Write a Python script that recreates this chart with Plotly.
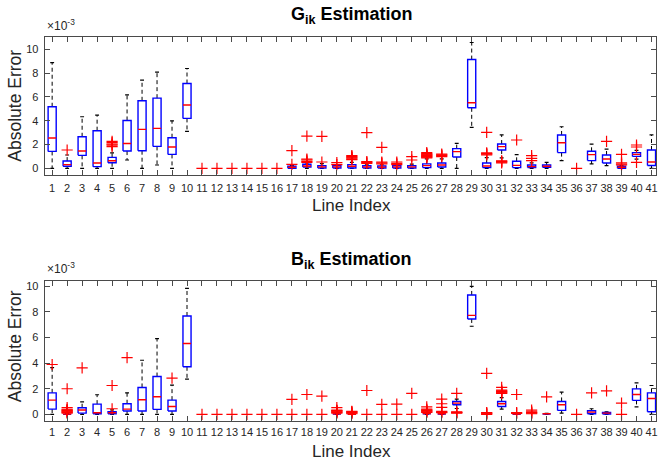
import plotly.graph_objects as go

# ---------------- data (values in units of 1e-3) ----------------
line_index = list(range(1, 42))

# G_ik estimation
g_q1 = [1.42, 0.17, 1.09, 0.14, 0.47, 1.45, 1.48, 1.84, 1.17, 4.19,
        None, None, None, None, None, None,
        0.00, 0.11, 0.03, 0.03, 0.03, 0.03, 0.03, 0.03, 0.03, 0.06, 0.11,
        0.95, 5.08, 0.06, 1.54, 0.06, 0.06, 0.09, 1.32, None, 0.65, 0.45,
        0.00, 1.00, 0.24]
g_med = [2.54, 0.31, 1.45, 0.45, 0.64, 2.09, 3.27, 3.35, 1.79, 5.31,
         None, None, None, None, None, None,
         0.09, 0.20, 0.12, 0.12, 0.17, 0.12, 0.10, 0.12, 0.12, 0.23, 0.28,
         1.40, 5.50, 0.20, 1.82, 0.25, 0.14, 0.17, 2.15, None, 1.15, 0.78,
         0.09, 1.17, 0.53]
g_q3 = [5.17, 0.61, 2.65, 3.16, 0.92, 4.02, 5.67, 5.89, 2.57, 7.12,
        None, None, None, None, None, None,
        0.17, 0.34, 0.23, 0.23, 0.31, 0.23, 0.20, 0.23, 0.23, 0.37, 0.45,
        1.65, 9.13, 0.45, 2.04, 0.59, 0.28, 0.28, 2.80, None, 1.43, 1.12,
        0.17, 1.32, 1.54]
g_wlo = [0.00, 0.00, 0.00, 0.00, 0.00, 0.70, 0.00, 0.28, 0.00, 3.10,
         None, None, None, None, None, None,
         0.00, 0.00, 0.00, 0.00, 0.00, 0.00, 0.00, 0.00, 0.00, 0.00, 0.00,
         0.00, 3.44, 0.00, 0.87, 0.00, 0.00, 0.00, 0.65, None, 0.37, 0.23,
         0.00, 0.78, 0.00]
g_whi = [8.88, 1.12, 4.33, 4.47, 1.30, 6.17, 7.40, 8.07, 3.99, 8.38,
         None, None, None, None, None, None,
         0.25, 0.45, 0.40, 0.28, 0.50, 0.35, 0.30, 0.28, 0.35, 0.80, 0.80,
         2.10, 10.56, 0.90, 2.80, 1.15, 0.45, 0.50, 3.49, None, 2.04, 1.62,
         0.22, 1.50, 2.80]
g_out = [[], [1.54], [], [], [1.82, 1.95, 2.04, 2.15, 2.26], [], [], [], [], [],
         [0], [0], [0], [0], [0], [0],
         [0.34, 1.48], [0.50, 0.59, 0.70, 0.78, 2.71], [0.53, 2.68], [0.31, 0.48],
         [0.73, 0.80, 0.87, 0.93, 1.00, 1.06], [0.42, 0.50, 0.56, 2.99],
         [0.37, 0.45, 0.53, 1.76], [0.31, 0.42, 0.53], [0.70, 0.98],
         [0.87, 0.93, 0.98, 1.03, 1.08, 1.13, 1.18, 1.24, 1.31],
         [0.98, 1.06, 1.13, 1.20],
         [], [], [1.12, 1.18, 1.23, 1.29, 3.02], [0.45, 0.52, 0.58, 0.62],
         [2.38], [0.65, 0.84, 1.06], [], [], [0], [], [2.27],
         [0.28, 0.36, 0.45, 1.17], [0.50, 1.79, 1.96], []]

# B_ik estimation
b_q1 = [0.41, 0.00, 0.10, 0.05, 0.05, 0.26, 0.26, 0.39, 0.26, 3.71,
        None, None, None, None, None, None,
        None, None, None, 0.02, 0.00, None, None, None, None, 0.05, 0.03,
        0.75, 7.44, None, 0.62, 0.00, None, 0.03, 0.31, None, 0.05, 0.03,
        None, 1.09, 0.20]
b_med = [1.11, 0.02, 0.34, 0.13, 0.13, 0.41, 1.14, 1.37, 0.62, 5.52,
         None, None, None, None, None, None,
         None, None, None, 0.04, 0.01, None, None, None, None, 0.07, 0.05,
         0.88, 7.72, None, 0.83, 0.02, None, 0.05, 0.75, None, 0.18, 0.10,
         None, 1.55, 1.24]
b_q3 = [1.68, 0.05, 0.52, 0.80, 0.20, 0.83, 2.10, 2.95, 1.11, 7.67,
        None, None, None, None, None, None,
        None, None, None, 0.07, 0.03, None, None, None, None, 0.10, 0.08,
        1.01, 9.31, None, 1.01, 0.04, None, 0.07, 1.01, None, 0.28, 0.15,
        None, 1.99, 1.68]
b_wlo = [0.00, 0.00, 0.00, 0.00, 0.00, 0.00, 0.00, 0.00, 0.00, 2.75,
         None, None, None, None, None, None,
         None, None, None, 0.00, 0.00, None, None, None, None, 0.00, 0.00,
         0.46, 6.87, None, 0.41, 0.00, None, 0.00, 0.10, None, 0.00, 0.00,
         None, 0.59, 0.00]
b_whi = [3.65, 0.08, 0.98, 1.53, 0.35, 1.68, 4.22, 5.91, 2.28, 9.82,
         None, None, None, None, None, None,
         None, None, None, 0.08, 0.04, None, None, None, None, 0.12, 0.10,
         1.19, 9.98, None, 1.30, 0.05, None, 0.09, 1.73, None, 0.44, 0.20,
         None, 2.46, 2.25]
b_out = [[3.89], [0.10, 0.15, 0.20, 0.25, 0.30, 0.35, 0.40, 0.52, 2.00], [3.63], [],
         [0.44, 2.25], [4.43], [], [], [2.83], [],
         [0], [0], [0], [0], [0], [0],
         [0, 1.17], [0, 1.55], [0, 1.42],
         [0.10, 0.15, 0.20, 0.25, 0.30, 0.33, 0.52],
         [0.05, 0.10, 0.15, 0.20, 0.23], [0, 1.86], [0, 0.78], [0, 0.80], [0, 1.63],
         [0.15, 0.20, 0.25, 0.30, 0.35, 0.41, 0.59],
         [0.13, 0.18, 0.23, 0.54, 0.83, 1.19],
         [0.10, 0.13, 0.16, 0.20, 1.63], [], [0, 0.05, 0.10, 0.14, 3.19],
         [1.63, 1.68, 1.73, 1.78, 1.84, 1.89, 2.10],
         [0.08, 0.13, 1.55], [0.05, 0.10, 0.15, 0.20, 0.33], [1.37], [], [0],
         [1.68], [1.84], [0, 0.88], [], []]

y_ticks = [0, 2, 4, 6, 8, 10]
titles = ["G<sub>ik</sub> Estimation", "B<sub>ik</sub> Estimation"]

# ---------------- figure ----------------
W, H = 658, 464
fig = go.Figure()

BOX_HW = 0.27
CAP_HW = 0.13
FONT = "Liberation Sans, Arial, Helvetica, sans-serif"


def add_boxes(q1, med, q3, wlo, whi, outs, xa, ya):
    wx, wy, cx, cy, bx, by, mx, my, ox, oy = ([] for _ in range(10))
    for i, x in enumerate(line_index):
        if q1[i] is not None:
            wx += [x, x, None, x, x, None]
            wy += [q3[i], whi[i], None, q1[i], wlo[i], None]
            cx += [x - CAP_HW, x + CAP_HW, None, x - CAP_HW, x + CAP_HW, None]
            cy += [whi[i], whi[i], None, wlo[i], wlo[i], None]
            bx += [x - BOX_HW, x + BOX_HW, x + BOX_HW, x - BOX_HW, x - BOX_HW, None]
            by += [q1[i], q1[i], q3[i], q3[i], q1[i], None]
            mx += [x - BOX_HW, x + BOX_HW, None]
            my += [med[i], med[i], None]
        for v in outs[i]:
            ox.append(x)
            oy.append(v)
    common = dict(xaxis=xa, yaxis=ya, showlegend=False, hoverinfo="skip")
    fig.add_trace(go.Scatter(x=wx, y=wy, mode="lines",
                             line=dict(color="black", width=1, dash="4px,3px"), **common))
    fig.add_trace(go.Scatter(x=cx, y=cy, mode="lines",
                             line=dict(color="black", width=1.2), **common))
    fig.add_trace(go.Scatter(x=bx, y=by, mode="lines",
                             line=dict(color="#0000FF", width=1.4), **common))
    fig.add_trace(go.Scatter(x=mx, y=my, mode="lines",
                             line=dict(color="#FF0000", width=1.4), **common))
    fig.add_trace(go.Scatter(x=ox, y=oy, mode="markers",
                             marker=dict(symbol="cross-thin", size=8,
                                         line=dict(color="#FF0000", width=1.2)),
                             **common))


add_boxes(g_q1, g_med, g_q3, g_wlo, g_whi, g_out, "x", "y")
add_boxes(b_q1, b_med, b_q3, b_wlo, b_whi, b_out, "x2", "y2")

x0px, x1px = 44.8, 658
top_dom = (1 - 174.3 / H, 1 - 35.7 / H)
bot_dom = (1 - 420.7 / H, 1 - 280.7 / H)

axis_common = dict(showline=True, linecolor="#4a4a4a", linewidth=1, mirror="ticks",
                   ticks="inside", ticklen=5, tickwidth=1, tickcolor="#4a4a4a",
                   showgrid=False, zeroline=False, ticklabeloverflow="allow",
                   tickfont=dict(family=FONT, size=11, color="#262626"))

fig.update_layout(
    width=W, height=H,
    margin=dict(l=0, r=0, t=0, b=0),
    paper_bgcolor="white", plot_bgcolor="white",
    xaxis=dict(domain=[x0px / W, x1px / W], range=[0.5, 41.3], anchor="y",
               tickvals=line_index, ticktext=[str(v) for v in line_index],
               ticklabelstandoff=3, **axis_common),
    yaxis=dict(domain=list(top_dom), range=[-0.553, 11.055], anchor="x",
               tickvals=y_ticks, ticktext=[str(v) for v in y_ticks],
               ticklabelstandoff=3, **axis_common),
    xaxis2=dict(domain=[x0px / W, x1px / W], range=[0.5, 41.3], anchor="y2",
                tickvals=line_index, ticktext=[str(v) for v in line_index],
                ticklabelstandoff=1, **axis_common),
    yaxis2=dict(domain=list(bot_dom), range=[-0.5, 10.39], anchor="x2",
                tickvals=y_ticks, ticktext=[str(v) for v in y_ticks],
                ticklabelstandoff=3, **axis_common),
)

ann = []
def px(xp, yp):
    return xp / W, 1 - yp / H

for title, ty, ly, ey, yl in [(titles[0], 15, 205, 34, 105), (titles[1], 260, 451.5, 278, 346)]:
    xx, yy = px(353, ty)
    ann.append(dict(text="<b>" + title + "</b>", x=xx, y=yy, xref="paper", yref="paper",
                    xanchor="center", yanchor="middle", showarrow=False,
                    font=dict(family=FONT, size=18, color="black")))
    xx, yy = px(353, ly)
    ann.append(dict(text="Line Index", x=xx, y=yy, xref="paper", yref="paper",
                    xanchor="center", yanchor="middle", showarrow=False,
                    font=dict(family=FONT, size=17, color="#262626")))
    xx, yy = px(15, yl)
    ann.append(dict(text="Absolute Error", x=xx, y=yy, xref="paper", yref="paper",
                    xanchor="center", yanchor="middle", showarrow=False, textangle=-90,
                    font=dict(family=FONT, size=17.5, color="#262626")))
    xx, yy = px(45, ey)
    ann.append(dict(text="\u00d710<sup>-3</sup>", x=xx, y=yy, xref="paper", yref="paper",
                    xanchor="left", yanchor="bottom", showarrow=False,
                    font=dict(family=FONT, size=12, color="#262626")))

fig.update_layout(annotations=ann)

fig.write_html("out.html", config={"displayModeBar": False},
               post_script="document.body.style.margin='0';document.body.style.overflow='hidden';")
